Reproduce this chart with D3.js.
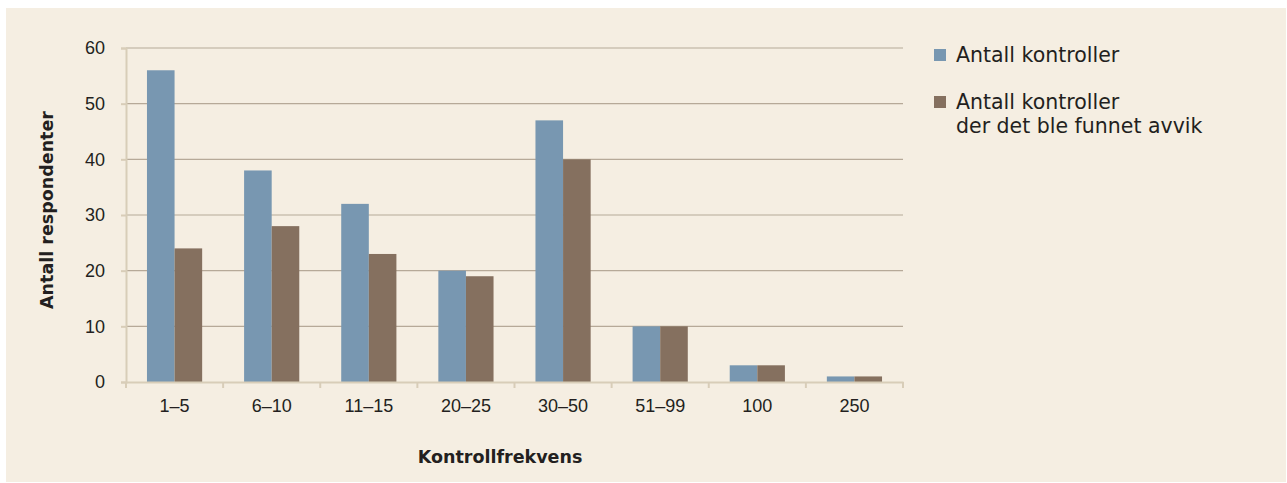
<!DOCTYPE html>
<html>
<head>
<meta charset="utf-8">
<script src="https://cdn.jsdelivr.net/npm/d3@7"></script>
<style>
  body { margin: 0; background: #fff; }
  svg { display: block; font-family: "DejaVu Sans", sans-serif; }
</style>
</head>
<body>
<svg id="chart" width="1287" height="483"></svg>
<script>
// data
const categories = ["1–5", "6–10", "11–15", "20–25", "30–50", "51–99", "100", "250"];
const antallKontroller = [56, 38, 32, 20, 47, 10, 3, 1];
const medAvvik = [24, 28, 23, 19, 40, 10, 3, 1];
const seriesNames = ["Antall kontroller", "Antall kontroller\nder det ble funnet avvik"];
const yTicks = [0, 10, 20, 30, 40, 50, 60];

const colors = ["#7897b1", "#85705f"];
const textColor = "#231f20";
const axisColor = "#d8cdb8";

const svg = d3.select("#chart");

// background panel
svg.append("rect")
  .attr("x", 6).attr("y", 8)
  .attr("width", 1280).attr("height", 474)
  .attr("fill", "#f5eee2");

const plotLeft = 126, plotRight = 903, plotTop = 48, plotBottom = 382;

const x = d3.scaleBand().domain(categories).range([plotLeft, plotRight]).paddingInner(0).paddingOuter(0);
// two bars side by side in the middle of each band
const xInner = d3.scaleBand().domain([0, 1]).range([0, x.bandwidth()]).paddingOuter(0.76).paddingInner(0);
const y = d3.scaleLinear().domain([0, 60]).range([plotBottom, plotTop]);

// gridlines
svg.append("g")
  .selectAll("line")
  .data(yTicks.filter(d => d > 0))
  .enter().append("line")
  .attr("x1", plotLeft).attr("x2", plotRight)
  .attr("y1", d => y(d)).attr("y2", d => y(d))
  .attr("stroke", "#b6a998")
  .attr("stroke-width", 1.2);

// bars
const rows = categories.map((c, i) => ({ cat: c, values: [antallKontroller[i], medAvvik[i]] }));
const groups = svg.append("g").selectAll("g")
  .data(rows)
  .enter().append("g")
  .attr("transform", d => `translate(${x(d.cat)},0)`);

groups.selectAll("rect")
  .data(d => d.values.map((v, k) => ({ k, v })))
  .enter().append("rect")
  .attr("x", d => xInner(d.k))
  .attr("width", xInner.bandwidth())
  .attr("y", d => y(d.v))
  .attr("height", d => y(0) - y(d.v))
  .attr("fill", d => colors[d.k]);

// y axis
const yAxis = svg.append("g")
  .attr("transform", `translate(${plotLeft},0)`)
  .call(d3.axisLeft(y).tickValues(yTicks).tickSize(5).tickPadding(16));
yAxis.select(".domain").attr("stroke", axisColor).attr("stroke-width", 2);
yAxis.selectAll(".tick line").attr("stroke", axisColor).attr("stroke-width", 2);
yAxis.selectAll("text").attr("font-size", 18).attr("fill", textColor);

// x axis
const xAxis = svg.append("g")
  .attr("transform", `translate(0,${plotBottom})`)
  .call(d3.axisBottom(x).tickSize(0).tickPadding(17));
xAxis.select(".domain").attr("stroke", axisColor).attr("stroke-width", 2);
xAxis.selectAll("text").attr("font-size", 18).attr("fill", textColor);
xAxis.append("g").selectAll("line")
  .data(categories.concat([null]))
  .enter().append("line")
  .attr("x1", (d, i) => plotLeft + i * x.step())
  .attr("x2", (d, i) => plotLeft + i * x.step())
  .attr("y1", 0).attr("y2", 6)
  .attr("stroke", axisColor).attr("stroke-width", 2);

// axis titles
svg.append("text")
  .attr("x", 500).attr("y", 463)
  .attr("text-anchor", "middle")
  .attr("font-size", 17.5).attr("font-weight", "bold")
  .attr("fill", textColor)
  .text("Kontrollfrekvens");

svg.append("text")
  .attr("transform", "translate(53,210) rotate(-90)")
  .attr("text-anchor", "middle")
  .attr("font-size", 17.5).attr("font-weight", "bold")
  .attr("fill", textColor)
  .text("Antall respondenter");

// legend
const legend = svg.append("g").attr("transform", "translate(934,0)");
const legendY = [49, 96];
seriesNames.forEach((name, i) => {
  legend.append("rect")
    .attr("x", 0).attr("y", legendY[i])
    .attr("width", 12).attr("height", 12)
    .attr("fill", colors[i]);
  const t = legend.append("text")
    .attr("x", 22).attr("y", legendY[i] + 13)
    .attr("font-size", 20.5).attr("fill", textColor);
  name.split("\n").forEach((line, j) => {
    t.append("tspan").attr("x", 22).attr("dy", j === 0 ? 0 : 24).text(line);
  });
});
</script>
</body>
</html>
